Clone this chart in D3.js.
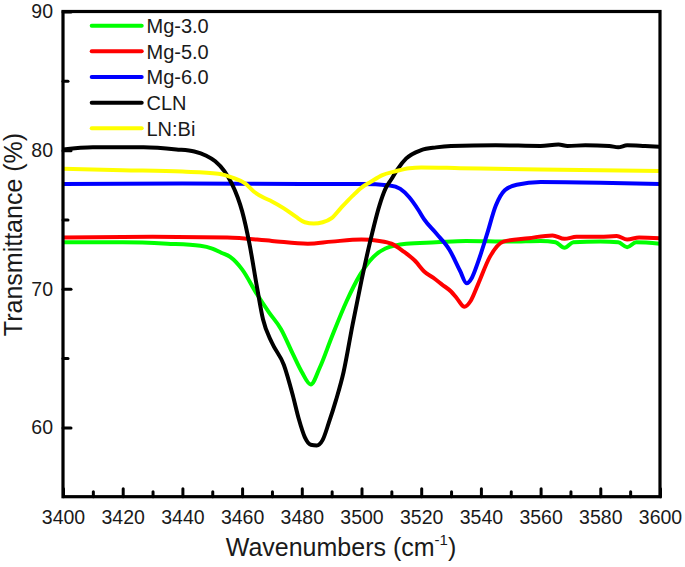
<!DOCTYPE html>
<html>
<head>
<meta charset="utf-8">
<script src="https://cdn.jsdelivr.net/npm/d3@7/dist/d3.min.js"></script>
<style>
  html, body { margin: 0; padding: 0; background: #fff; }
  svg { display: block; font-family: "Liberation Sans", Arial, Helvetica, sans-serif; }
</style>
</head>
<body>
<svg id="chart" width="685" height="567"></svg>
<script>
// ---- Data ----
const seriesNames = ["Mg-3.0", "Mg-5.0", "Mg-6.0", "CLN", "LN:Bi"];
const seriesColors = ["#00ff00", "#ff0000", "#0000ff", "#000000", "#ffff00"];

const mg3X = [3400, 3420, 3435, 3446, 3450, 3453, 3456, 3460, 3465, 3469, 3473, 3477, 3480, 3483, 3486, 3490, 3495, 3499.5, 3504, 3508, 3515, 3525, 3535, 3550, 3560, 3565, 3568, 3571, 3580, 3586, 3589, 3592, 3600];
const mg3Y = [73.35, 73.35, 73.25, 73.1, 72.9, 72.6, 72.3, 71.4, 69.6, 68.3, 67.1, 65.3, 64.0, 63.1, 64.3, 66.5, 69.1, 71.0, 72.3, 72.9, 73.25, 73.35, 73.45, 73.4, 73.45, 73.35, 72.95, 73.35, 73.4, 73.35, 73.0, 73.35, 73.25];

const mg5X = [3400, 3430, 3455, 3470, 3482, 3490, 3500, 3506, 3510, 3514, 3518, 3521, 3524, 3527, 3530, 3532, 3534.5, 3536.5, 3539, 3543, 3547.5, 3556, 3564, 3568, 3572, 3580, 3585.5, 3589, 3593, 3600];
const mg5Y = [73.7, 73.75, 73.7, 73.45, 73.25, 73.4, 73.55, 73.45, 73.25, 72.7, 72.0, 71.25, 70.8, 70.3, 69.8, 69.3, 68.7, 69.1, 70.3, 72.3, 73.4, 73.65, 73.85, 73.6, 73.75, 73.75, 73.8, 73.55, 73.7, 73.65];

const mg6X = [3400, 3440, 3480, 3500, 3509.5, 3513, 3516, 3519, 3521, 3525, 3529.5, 3533, 3535.2, 3537, 3539, 3542, 3545, 3548, 3552, 3560, 3580, 3600];
const mg6Y = [77.55, 77.6, 77.55, 77.55, 77.45, 77.2, 76.6, 75.7, 75.0, 74.0, 72.8, 71.3, 70.4, 70.8, 71.9, 73.9, 76.0, 77.1, 77.5, 77.7, 77.65, 77.55];

const clnX = [3400, 3410, 3427, 3438, 3444, 3448, 3451, 3454, 3456.5, 3458.5, 3460, 3462.5, 3465, 3467, 3470, 3474, 3477, 3479, 3481, 3483, 3485, 3487, 3489, 3491.5, 3494, 3497, 3500, 3503, 3506, 3508, 3510, 3512, 3515, 3520, 3525, 3530, 3545, 3560, 3566, 3569, 3575, 3583, 3586, 3589, 3595, 3600];
const clnY = [80.05, 80.2, 80.2, 80.05, 79.9, 79.6, 79.2, 78.5, 77.6, 76.6, 75.6, 73.2, 70.1, 67.8, 66.1, 64.5, 62.3, 60.6, 59.3, 58.75, 58.7, 59.1, 60.3, 62.0, 64.0, 67.4, 70.6, 73.5, 76.0, 77.2, 77.9, 78.6, 79.4, 80.0, 80.2, 80.3, 80.35, 80.3, 80.4, 80.3, 80.35, 80.3, 80.2, 80.35, 80.3, 80.25];

const lnbiX = [3400, 3420, 3440, 3452, 3457, 3461, 3464, 3467, 3470, 3474, 3478, 3481, 3484, 3487, 3490, 3493, 3497, 3500, 3503, 3507, 3511, 3516, 3520, 3533, 3560, 3600];
const lnbiY = [78.65, 78.55, 78.45, 78.3, 78.0, 77.6, 77.0, 76.6, 76.3, 75.8, 75.2, 74.8, 74.7, 74.8, 75.1, 75.8, 76.7, 77.3, 77.7, 78.2, 78.45, 78.7, 78.75, 78.7, 78.6, 78.5];

const xMajorTicks = [3400, 3420, 3440, 3460, 3480, 3500, 3520, 3540, 3560, 3580, 3600];
const xMinorTicks = [3410, 3430, 3450, 3470, 3490, 3510, 3530, 3550, 3570, 3590];
const yMajorTicks = [60, 70, 80, 90];
const yMinorTicks = [65, 75, 85];

const xLabel = "Wavenumbers (cm";
const xLabelSup = "-1";
const yLabel = "Transmittance (%)";

// ---- Build ----
(function () {
const xsArr = [mg3X, mg5X, mg6X, clnX, lnbiX];
const ysArr = [mg3Y, mg5Y, mg6Y, clnY, lnbiY];
const series = seriesNames.map((name, i) => ({
  name, color: seriesColors[i],
  points: xsArr[i].map((xv, j) => ({ x: xv, y: ysArr[i][j] }))
}));

const svg = d3.select("#chart");
const pL = 63, pR = 660, pT = 11.5, pB = 496.7;

const x = d3.scaleLinear().domain([3400, 3600]).range([pL, pR]);
const y = d3.scaleLinear().domain([55, 90]).range([pB, pT]);

svg.append("defs").append("clipPath").attr("id", "clip")
  .append("rect").attr("x", pL).attr("y", pT).attr("width", pR - pL).attr("height", pB - pT);

const line = d3.line().x(d => x(d.x)).y(d => y(d.y)).curve(d3.curveMonotoneX);

const plot = svg.append("g").attr("clip-path", "url(#clip)");
series.forEach(s => {
  plot.append("path").datum(s.points)
    .attr("d", line)
    .attr("fill", "none")
    .attr("stroke", s.color)
    .attr("stroke-width", 4)
    .attr("stroke-linejoin", "round")
    .attr("stroke-linecap", "round");
});

// Axes
const tickFont = 19.5;
const xAxis = svg.append("g").attr("transform", `translate(0,${pB})`)
  .call(d3.axisBottom(x).tickValues(xMajorTicks).tickSizeInner(-8).tickSizeOuter(0).tickPadding(13).tickFormat(d3.format("d")));
const xAxisMinor = svg.append("g").attr("transform", `translate(0,${pB})`)
  .call(d3.axisBottom(x).tickValues(xMinorTicks).tickSizeInner(-5).tickSizeOuter(0).tickFormat(""));
const yAxis = svg.append("g").attr("transform", `translate(${pL},0)`)
  .call(d3.axisLeft(y).tickValues(yMajorTicks).tickSizeInner(-8).tickSizeOuter(0).tickPadding(10).tickFormat(d3.format("d")));
const yAxisMinor = svg.append("g").attr("transform", `translate(${pL},0)`)
  .call(d3.axisLeft(y).tickValues(yMinorTicks).tickSizeInner(-5).tickSizeOuter(0).tickFormat(""));

[xAxis, xAxisMinor, yAxis, yAxisMinor].forEach(g => {
  g.select(".domain").remove();
  g.selectAll(".tick line").attr("stroke", "#000").attr("stroke-width", 3).attr("stroke-linecap", "round");
  g.selectAll(".tick text").attr("font-size", tickFont).attr("fill", "#1a1a1a")
    .attr("font-family", "'Liberation Sans', Arial, sans-serif");
});

// Frame
svg.append("rect")
  .attr("x", pL).attr("y", pT)
  .attr("width", pR - pL).attr("height", pB - pT)
  .attr("fill", "none").attr("stroke", "#000").attr("stroke-width", 3.2);

// Axis titles
const xt = svg.append("text")
  .attr("x", 341).attr("y", 556)
  .attr("text-anchor", "middle")
  .attr("font-size", 25).attr("fill", "#1a1a1a");
xt.append("tspan").text(xLabel);
xt.append("tspan").attr("font-size", 15).attr("dy", -11).text(xLabelSup);
xt.append("tspan").attr("dy", 11).text(")");

svg.append("text")
  .attr("transform", "translate(22,234.5) rotate(-90)")
  .attr("text-anchor", "middle")
  .attr("font-size", 25).attr("fill", "#1a1a1a")
  .text(yLabel);

// Legend
const legend = svg.append("g");
const legY0 = 25.7, legDy = 25.65;
series.forEach((s, i) => {
  const yy = legY0 + i * legDy;
  legend.append("line")
    .attr("x1", 91.7).attr("x2", 141.7).attr("y1", yy).attr("y2", yy)
    .attr("stroke", s.color).attr("stroke-width", 4).attr("stroke-linecap", "round");
  legend.append("text")
    .attr("x", 146.5).attr("y", yy).attr("dy", "0.36em")
    .attr("font-size", 20).attr("fill", "#1a1a1a")
    .text(s.name);
});
})();
</script>
</body>
</html>
